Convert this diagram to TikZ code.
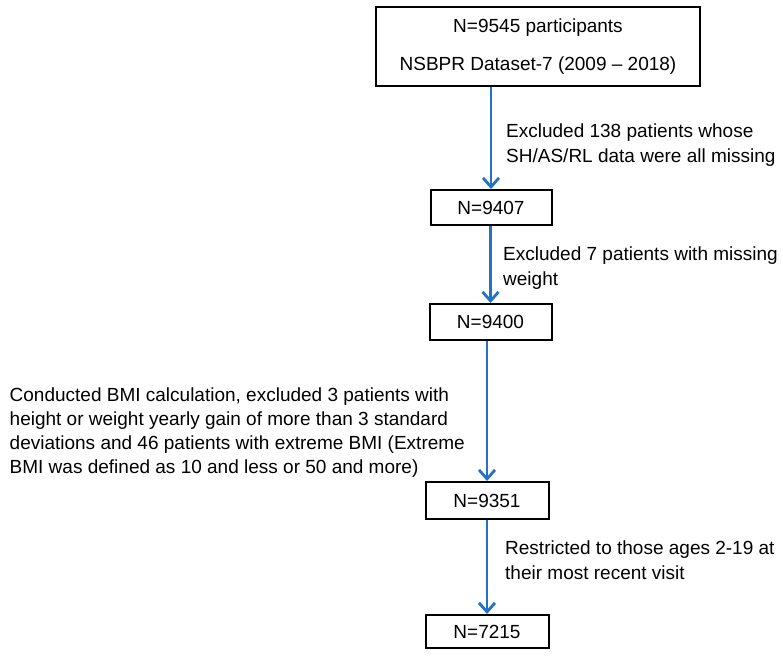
\documentclass[tikz,border=0pt]{standalone}
\usepackage{fontspec}
\setmainfont{Liberation Sans}
\usetikzlibrary{arrows.meta}
\definecolor{flowblue}{RGB}{35,114,201}
\begin{document}
\begin{tikzpicture}[x=1pt,y=1pt,
  countbox/.style={draw=black,line width=2pt,inner sep=0pt,font=\fontsize{19}{25}\selectfont},
  note/.style={anchor=west,align=left,inner sep=0pt,font=\fontsize{19}{25}\selectfont},
  flow/.style={draw=flowblue,line width=2.8pt,-{Straight Barb[length=9pt,width=16pt,line width=2.8pt]}}]
\useasboundingbox (0,0) rectangle (783,660);
\node[countbox,line width=2.8pt,minimum width=324pt,minimum height=79pt,align=center,
  font=\fontsize{19}{38}\selectfont] (top) at (538,613.5) {N=9545 participants\\NSBPR Dataset-7 (2009 -- 2018)};
\node[countbox,minimum width=121pt,minimum height=35pt] (a) at (491,452.5) {N=9407};
\node[countbox,minimum width=122pt,minimum height=36pt] (b) at (490.5,338) {N=9400};
\node[countbox,minimum width=123pt,minimum height=37pt] (c) at (487,159.5) {N=9351};
\node[countbox,minimum width=123pt,minimum height=33pt] (d) at (487,28.5) {N=7215};
\draw[flow] (top.south -| a.north) -- (a.north);
\draw[flow] (a.south -| b.north) -- (b.north);
\draw[flow] (b.south -| c.north) -- (c.north);
\draw[flow] (c.south -| d.north) -- (d.north);
\node[note] (l1) at (506,514.5) {Excluded 138 patients whose\\SH/AS/RL data were all missing};
\node[note] (l2) at (503,391.5) {Excluded 7 patients with missing\\weight};
\node[note,font=\fontsize{19}{24}\selectfont] (l3) at (9.5,227.5) {Conducted BMI calculation, excluded 3 patients with\\height or weight yearly gain of more than 3 standard\\deviations and 46 patients with extreme BMI (Extreme\\BMI was defined as 10 and less or 50 and more)};
\node[note] (l4) at (505,100) {Restricted to those ages 2-19 at\\their most recent visit};
\end{tikzpicture}
\end{document}
